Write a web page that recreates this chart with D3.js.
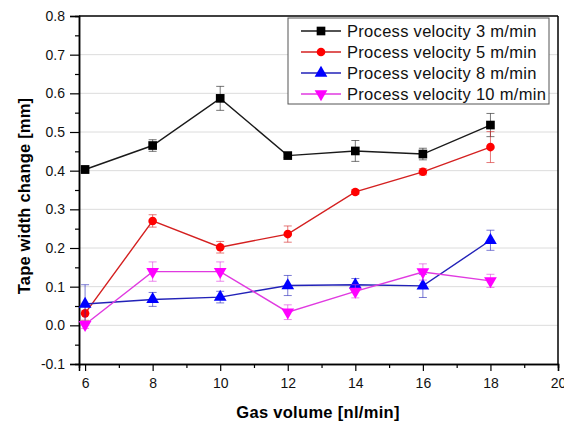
<!DOCTYPE html>
<html><head><meta charset="utf-8">
<script src="https://cdn.jsdelivr.net/npm/d3@7"></script>
<style>body{margin:0;background:#fff}svg{display:block}</style>
</head><body>
<svg id="c" width="564" height="423"></svg>
<script>
const xValues = [6, 8, 10, 12, 14, 16, 18];
const seriesNames = ["Process velocity 3 m/min","Process velocity 5 m/min","Process velocity 8 m/min","Process velocity 10 m/min"];
const v3  = [0.403, 0.465, 0.587, 0.439, 0.451, 0.443, 0.518];
const e3  = [0.010, 0.015, 0.031, 0.005, 0.027, 0.015, 0.030];
const v5  = [0.031, 0.270, 0.202, 0.236, 0.345, 0.397, 0.461];
const e5  = [0.018, 0.016, 0.015, 0.021, 0.006, 0.008, 0.040];
const v8  = [0.055, 0.067, 0.073, 0.103, 0.105, 0.102, 0.220];
const e8  = [0.050, 0.018, 0.015, 0.026, 0.016, 0.030, 0.026];
const v10 = [0.002, 0.139, 0.139, 0.034, 0.088, 0.138, 0.115];
const e10 = [0.010, 0.025, 0.025, 0.019, 0.017, 0.021, 0.017];
const xTicks = [6, 8, 10, 12, 14, 16, 18, 20];
const yTicks = [-0.1, 0, 0.1, 0.2, 0.3, 0.4, 0.5, 0.6, 0.7, 0.8];
const colors = ["#000000", "#ff0000", "#0000ff", "#ff00ff"];
const lineColors = ["#1a1a1a", "#d42020", "#2222b8", "#e03ae0"];
const shapes = ["square", "circle", "tri", "invtri"];

const series = [v3, v5, v8, v10].map((v, i) => ({
  name: seriesNames[i], color: colors[i], lc: lineColors[i], shape: shapes[i],
  pts: xValues.map((x, j) => ({x, y: v[j], e: [e3, e5, e8, e10][i][j]}))
}));

const svg = d3.select("#c");
const L = 79, R = 558, T = 16, B = 364;
const x = d3.scaleLinear().domain([5.82, 20]).range([L, R]);
const y = d3.scaleLinear().domain([-0.1, 0.8]).range([B, T]);
const font = "Liberation Sans, Arial, sans-serif";

// gridlines
svg.append("g").selectAll("line").data(yTicks.filter(t => t > -0.1 && t < 0.8)).join("line")
  .attr("x1", L).attr("x2", R).attr("y1", d => y(d)).attr("y2", d => y(d))
  .attr("stroke", "#dcdcdc").attr("stroke-width", 1);

// frame top & right
svg.append("line").attr("x1", L).attr("x2", R).attr("y1", T).attr("y2", T).attr("stroke", "#000").attr("stroke-width", 1.5);
svg.append("line").attr("x1", R).attr("x2", R).attr("y1", T).attr("y2", B).attr("stroke", "#000").attr("stroke-width", 1.5);

// axes
const xAxis = svg.append("g").attr("transform", `translate(0,${B})`)
  .call(d3.axisBottom(x).tickValues(xTicks).tickFormat(d3.format("d")).tickSize(7).tickPadding(7));
const xMinor = svg.append("g").attr("transform", `translate(0,${B})`)
  .call(d3.axisBottom(x).tickValues(d3.range(7, 20, 2)).tickFormat("").tickSize(4));
const yAxis = svg.append("g").attr("transform", `translate(${L},0)`)
  .call(d3.axisLeft(y).tickValues(yTicks).tickFormat(d3.format(".1f")).tickSize(9).tickPadding(5));
const yMinor = svg.append("g").attr("transform", `translate(${L},0)`)
  .call(d3.axisLeft(y).tickValues(d3.range(-0.05, 0.8, 0.1)).tickFormat("").tickSize(4));
[xAxis, xMinor, yAxis, yMinor].forEach(g => {
  g.select(".domain").attr("stroke", "#000").attr("stroke-width", 1.5);
  g.selectAll(".tick line").attr("stroke", "#000").attr("stroke-width", 1.2);
  g.selectAll("text").attr("font-family", font).attr("font-size", 14).attr("fill", "#111");
});
yAxis.selectAll("text").text(d => d < 0 ? "-" + Math.abs(d).toFixed(1) : d.toFixed(1));

// axis titles
svg.append("text").attr("x", 318).attr("y", 418).attr("text-anchor", "middle")
  .attr("font-family", font).attr("font-weight", "bold").attr("font-size", 16.5).attr("letter-spacing", 0.3)
  .text("Gas volume [nl/min]");
svg.append("text").attr("transform", `translate(29.5,196) rotate(-90)`).attr("text-anchor", "middle")
  .attr("font-family", font).attr("font-weight", "bold").attr("font-size", 16.5).attr("letter-spacing", 0.2)
  .text("Tape width change [mm]");

const sym = {
  square: d3.symbol().type(d3.symbolSquare).size(75),
  circle: d3.symbol().type(d3.symbolCircle).size(58),
  tri: d3.symbol().type(d3.symbolTriangle).size(70),
  invtri: d3.symbol().type(d3.symbolTriangle).size(70)
};
function drawMarker(g, s) {
  const p = g.append("path").attr("d", sym[s.shape]()).attr("fill", s.color);
  if (s.shape === "invtri") p.attr("transform", "rotate(180)");
}

const line = d3.line().x(d => x(d.x)).y(d => y(d.y));
series.forEach(s => {
  const g = svg.append("g");
  // error bars
  s.pts.forEach(p => {
    const cx = x(p.x);
    g.append("line").attr("x1", cx).attr("x2", cx).attr("y1", y(p.y - p.e)).attr("y2", y(p.y + p.e))
      .attr("stroke", s.lc).attr("stroke-opacity", 0.6).attr("stroke-width", 1);
    [p.y - p.e, p.y + p.e].forEach(v => g.append("line").attr("x1", cx - 4).attr("x2", cx + 4)
      .attr("y1", y(v)).attr("y2", y(v)).attr("stroke", s.lc).attr("stroke-opacity", 0.6).attr("stroke-width", 1));
  });
  g.append("path").datum(s.pts).attr("d", line).attr("fill", "none").attr("stroke", s.lc).attr("stroke-width", 1.4);
  s.pts.forEach(p => drawMarker(g.append("g").attr("transform", `translate(${x(p.x)},${y(p.y)})`), s));
});

// legend
const lg = svg.append("g");
lg.append("rect").attr("x", 288).attr("y", 18).attr("width", 261).attr("height", 86)
  .attr("fill", "#fff").attr("stroke", "#555").attr("stroke-width", 1);
series.forEach((s, i) => {
  const yy = 31 + i * 21;
  lg.append("line").attr("x1", 301).attr("x2", 341).attr("y1", yy).attr("y2", yy).attr("stroke", s.lc).attr("stroke-width", 1.4);
  drawMarker(lg.append("g").attr("transform", `translate(321,${yy})`), s);
  lg.append("text").attr("x", 347).attr("y", yy + 6).attr("font-family", font).attr("font-size", 16.5)
    .attr("letter-spacing", 0.3).attr("fill", "#111").text(s.name);
});
</script>
</body></html>
